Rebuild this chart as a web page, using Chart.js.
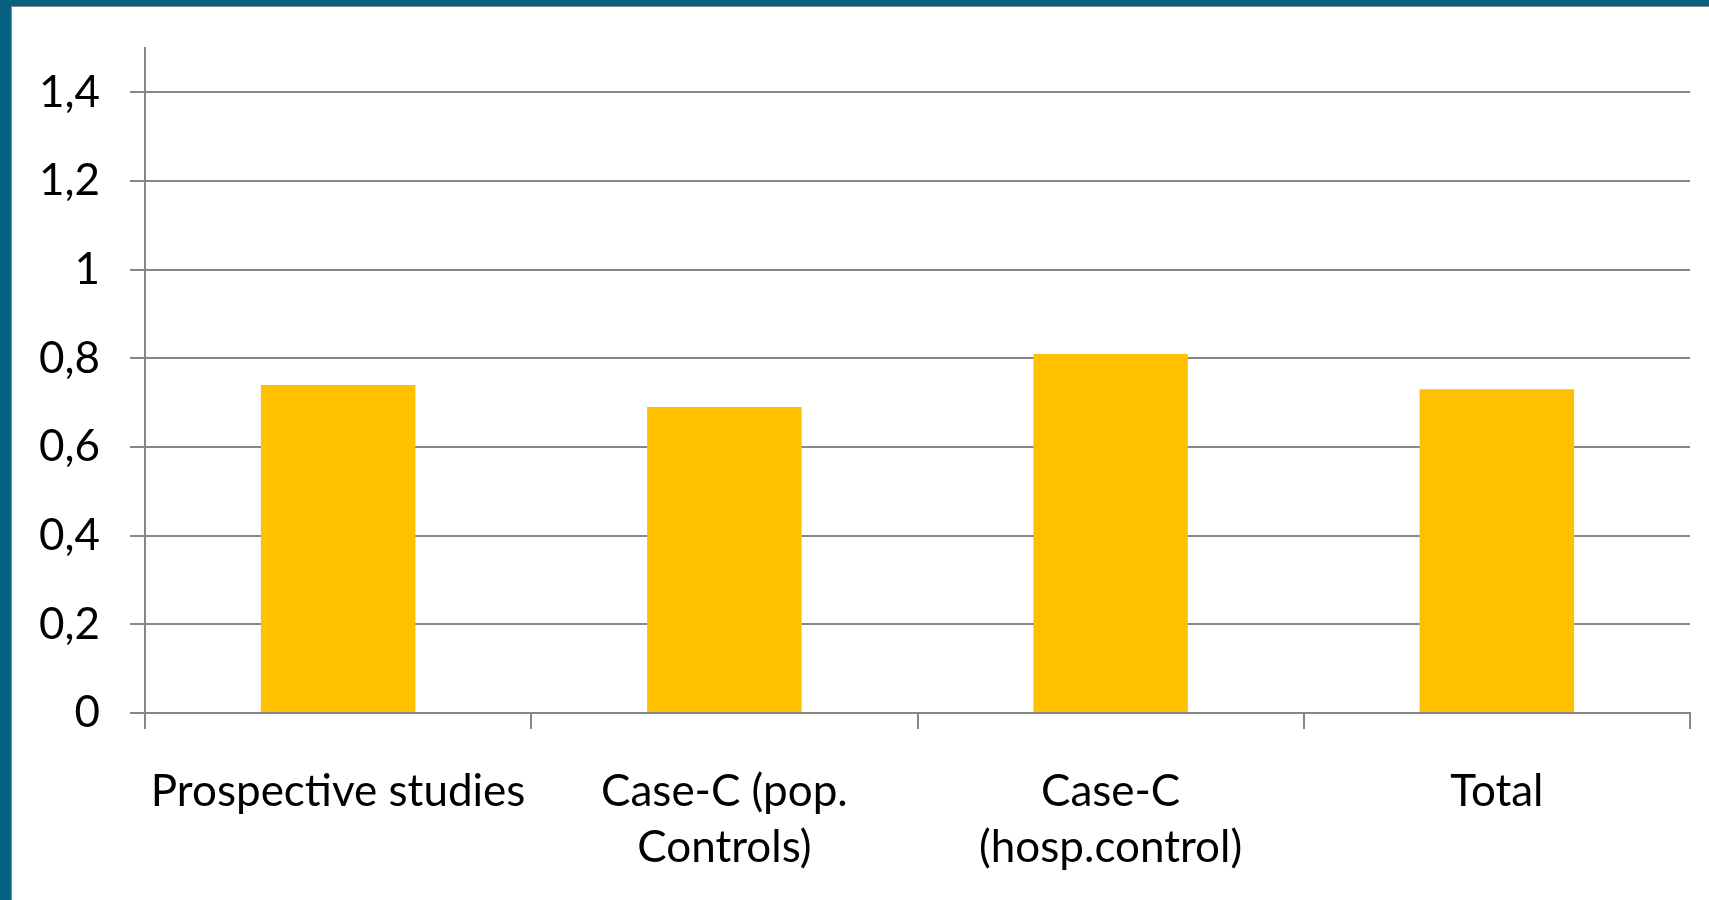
<!DOCTYPE html>
<html>
<head>
<meta charset="utf-8">
<script src="https://cdn.jsdelivr.net/npm/chart.js@4"></script>
<style>
  html, body { margin: 0; padding: 0; background: #fff; }
  .frame {
    position: absolute; left: 0; top: 0; width: 1709px; height: 900px;
    box-sizing: border-box;
    border-top: 6px solid #05617f;
    border-left: 11px solid #05617f;
  }
  .frame .inner {
    width: 100%; height: 100%; box-sizing: border-box;
    border-top: 1px solid #8c8c8c;
    border-left: 1px solid #8c8c8c;
  }
  #chart { position: absolute; left: 0; top: 0; }
</style>
</head>
<body>
<div class="frame"><div class="inner"></div></div>
<canvas id="chart" width="1709" height="900"></canvas>
<script>
// ===== Bar chart: ratios by study type =====
const categories = [
  "Prospective studies",
  ["Case-C (pop.", "Controls)"],
  ["Case-C", "(hosp.control)"],
  "Total"
];
const values = [0.74, 0.69, 0.81, 0.73];
const yTicks = [0, 0.2, 0.4, 0.6, 0.8, 1, 1.2, 1.4];
const yMax = 1.5;

const gridGray = "#878787";
const font = { family: "Lato", size: 44, lineHeight: 1.29 };

const ctx = document.getElementById("chart").getContext("2d");

new Chart(ctx, {
  type: "bar",
  data: {
    labels: categories,
    datasets: [
      {
        data: values,
        backgroundColor: "#ffc000",
        borderWidth: 0,
        barPercentage: 0.4,
        categoryPercentage: 1,
      },
    ],
  },
  options: {
    responsive: false,
    animation: false,
    layout: { padding: { top: 48, right: 19, left: 0, bottom: 0 } },
    plugins: {
      legend: { display: false },
      tooltip: { enabled: false },
    },
    scales: {
      x: {
        grid: {
          offset: true,
          drawOnChartArea: false,
          drawTicks: true,
          tickLength: 16,
          color: gridGray,
          lineWidth: 2,
        },
        border: { color: gridGray, width: 2 },
        ticks: {
          color: "#000",
          font: font,
          padding: 34,
          maxRotation: 0,
          autoSkip: false,
        },
        afterFit: (scale) => { scale.height = 187; },
      },
      y: {
        min: 0,
        max: yMax,
        grid: {
          color: gridGray,
          lineWidth: 2,
          tickLength: 15,
        },
        border: { color: gridGray, width: 2 },
        ticks: {
          color: "#000",
          font: font,
          padding: 30,
          callback: (v) => String(v).replace(".", ","),
        },
        // the axis runs up to 1.5, labels and gridlines stop at 1.4
        afterBuildTicks: (scale) => {
          scale.ticks = yTicks.map((v) => ({ value: v }));
        },
        afterFit: (scale) => {
          scale.width = 145;
          scale.paddingTop = 0;
          scale.paddingBottom = 0;
        },
      },
    },
  },
});
</script>
</body>
</html>
